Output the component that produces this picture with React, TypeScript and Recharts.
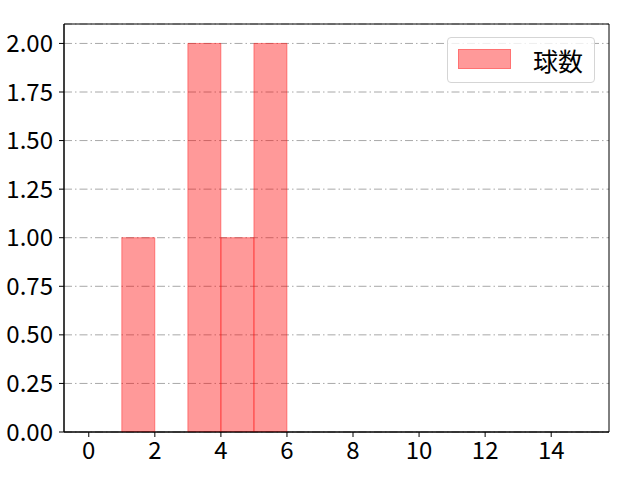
import React from "react";
import { BarChart, Bar, XAxis, YAxis, CartesianGrid, ReferenceArea } from "recharts";

const binStarts = [1, 3, 4, 5];
const binEnds = [2, 4, 5, 6];
const counts = [1, 2, 1, 2];
const xTicks = [0, 2, 4, 6, 8, 10, 12, 14];
const yTicks = [0, 0.25, 0.5, 0.75, 1, 1.25, 1.5, 1.75, 2];
const seriesName = "球数";

const data = binStarts.map((s, i) => ({ mid: (s + binEnds[i]) / 2, count: counts[i] }));

const FONT = "'Noto Sans CJK JP', 'Noto Sans', sans-serif";
const FS = 24;

const LegendBox = () => (
  <div
    style={{
      position: "absolute",
      left: 447,
      top: 37,
      width: 148,
      height: 46,
      border: "1px solid #d5d5d5",
      borderRadius: 4,
      background: "rgba(255,255,255,0.8)",
      boxSizing: "border-box",
      fontFamily: FONT,
    }}
  >
    <div
      style={{
        position: "absolute",
        left: 10,
        top: 11,
        width: 53,
        height: 20,
        background: "rgba(255,0,0,0.4)",
        border: "1px solid rgba(255,0,0,0.25)",
        boxSizing: "border-box",
      }}
    />
    <div style={{ position: "absolute", left: 85, top: 6, fontSize: 25, lineHeight: "32px", color: "#000" }}>
      {seriesName}
    </div>
  </div>
);

export default function App() {
  return (
    <div style={{ position: "absolute", left: 0, top: 0, width: 640, height: 480, background: "#fff" }}>
      <BarChart
        width={640}
        height={480}
        data={data}
        margin={{ top: 24, right: 31, left: 0, bottom: 0 }}
        barCategoryGap={0}
        barGap={0}
        style={{ fontFamily: FONT }}
      >
        <CartesianGrid
          horizontal={true}
          vertical={false}
          stroke="#a8a8a8"
          strokeDasharray="8 3 1.5 3"
          strokeWidth={1}
        />
        <XAxis
          type="number"
          dataKey="mid"
          domain={[-0.75, 15.75]}
          ticks={xTicks}
          allowDataOverflow
          height={48}
          tickSize={5}
          tickMargin={5}
          stroke="#000"
          tick={{ fill: "#000", fontSize: FS, fontFamily: FONT }}
        />
        <YAxis
          type="number"
          domain={[0, 2.1]}
          ticks={yTicks}
          allowDataOverflow
          width={64}
          tickSize={5}
          tickMargin={6}
          stroke="#000"
          tickFormatter={(v: number) => v.toFixed(2)}
          tick={{ fill: "#000", fontSize: FS, fontFamily: FONT }}
        />
        <Bar
          dataKey="count"
          name={seriesName}
          fill="#ff0000"
          fillOpacity={0.4}
          stroke="#ff0000"
          strokeOpacity={0.4}
          strokeWidth={1}
          isAnimationActive={false}
        />
        <ReferenceArea x1={-0.75} x2={15.75} y1={0} y2={2.1} fill="none" stroke="#000" strokeWidth={1} ifOverflow="visible" />
      </BarChart>
      <LegendBox />
    </div>
  );
}
